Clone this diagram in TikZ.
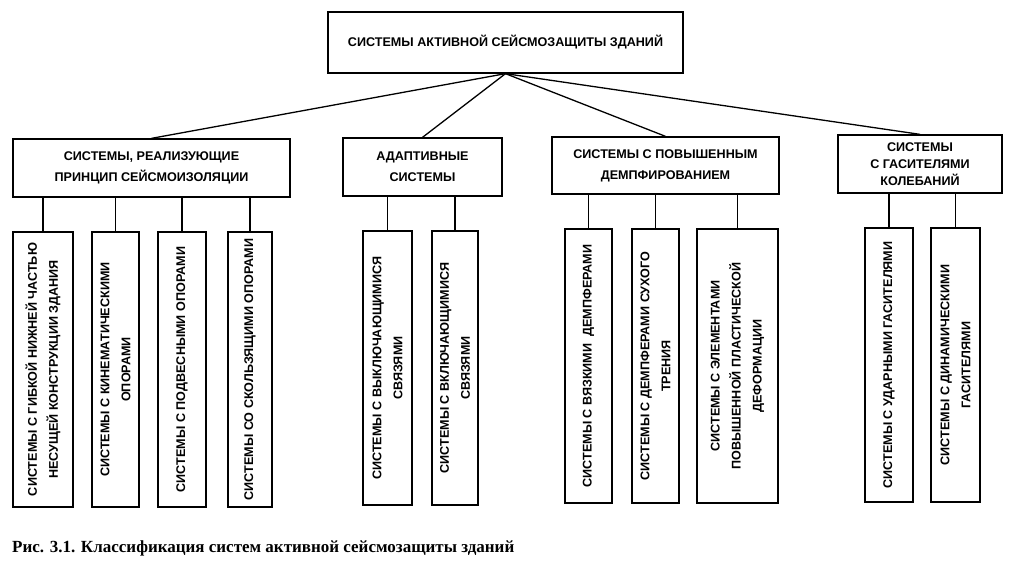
\documentclass[tikz,border=0pt]{standalone}
\usepackage{fontspec}
\setmainfont{Liberation Serif}
\setsansfont{Liberation Sans}
\usetikzlibrary{positioning}

\begin{document}
\begin{tikzpicture}[
x=1pt,y=-1pt,
box/.style={rectangle,draw,line width=1.3pt,align=center,inner sep=2pt,font=\sffamily\bfseries\fontsize{12.6}{21}\selectfont},
leaf/.style={box,rotate=90,minimum width=275pt},
wire/.style={line width=1.3pt}
]
\useasboundingbox (0,0) rectangle (1011,562);
% root
\node[box,minimum width=355pt,minimum height=61pt] (root) at (505.5,42.5) {СИСТЕМЫ АКТИВНОЙ СЕЙСМОЗАЩИТЫ ЗДАНИЙ};
% groups
\node[box,minimum width=277pt,minimum height=58pt] (iso) at (151.5,168) {СИСТЕМЫ, РЕАЛИЗУЮЩИЕ\\ПРИНЦИП СЕЙСМОИЗОЛЯЦИИ};
\node[box,minimum width=159pt,minimum height=58pt] (adapt) at (422.5,167) {АДАПТИВНЫЕ\\СИСТЕМЫ};
\node[box,minimum width=227pt,minimum height=57pt] (damp) at (665.5,165.5) {СИСТЕМЫ С ПОВЫШЕННЫМ\\ДЕМПФИРОВАНИЕМ};
\node[box,minimum width=164pt,minimum height=58pt,font=\sffamily\bfseries\fontsize{12.6}{17}\selectfont] (absorb) at (920,164) {СИСТЕМЫ\\С ГАСИТЕЛЯМИ\\КОЛЕБАНИЙ};
% leaves
\node[leaf,minimum height=60pt] (flex) at (43,369.5) {СИСТЕМЫ С ГИБКОЙ НИЖНЕЙ ЧАСТЬЮ\\НЕСУЩЕЙ КОНСТРУКЦИИ ЗДАНИЯ};
\node[leaf,minimum height=47pt] (kin) at (115.5,369.5) {СИСТЕМЫ С КИНЕМАТИЧЕСКИМИ\\ОПОРАМИ};
\node[leaf,minimum height=48pt] (hang) at (182,369.5) {СИСТЕМЫ С ПОДВЕСНЫМИ ОПОРАМИ};
\node[leaf,minimum height=44pt] (slide) at (250,369.5) {СИСТЕМЫ СО СКОЛЬЗЯЩИМИ ОПОРАМИ};
\node[leaf,minimum height=49pt,minimum width=274pt] (off) at (387.5,368) {СИСТЕМЫ С ВЫКЛЮЧАЮЩИМИСЯ\\СВЯЗЯМИ};
\node[leaf,minimum height=46pt,minimum width=274pt] (on) at (455,368) {СИСТЕМЫ С ВКЛЮЧАЮЩИМИСЯ\\СВЯЗЯМИ};
\node[leaf,minimum height=47pt,minimum width=274pt] (visc) at (588.5,366) {СИСТЕМЫ С ВЯЗКИМИ\ \ ДЕМПФЕРАМИ};
\node[leaf,minimum height=47pt,minimum width=274pt] (dry) at (655.5,366) {СИСТЕМЫ С ДЕМПФЕРАМИ СУХОГО\\ТРЕНИЯ};
\node[leaf,minimum height=81pt,minimum width=274pt] (plast) at (737.5,366) {СИСТЕМЫ С ЭЛЕМЕНТАМИ\\ПОВЫШЕННОЙ ПЛАСТИЧЕСКОЙ\\ДЕФОРМАЦИИ};
\node[leaf,minimum height=48pt,minimum width=274pt] (impact) at (889,365) {СИСТЕМЫ С УДАРНЫМИ ГАСИТЕЛЯМИ};
\node[leaf,minimum height=49pt,minimum width=274pt] (dyn) at (955.5,365) {СИСТЕМЫ С ДИНАМИЧЕСКИМИ\\ГАСИТЕЛЯМИ};
% caption
\node[anchor=west,font=\bfseries\fontsize{17}{20}\selectfont,inner sep=0pt] (caption) at (12,548) {Рис. 3.1. Классификация систем активной сейсмозащиты зданий};

\foreach \g in {iso,adapt,damp,absorb}
  \draw[wire] (root.south) -- (\g.north);
\foreach \c/\g in {flex/iso,kin/iso,hang/iso,slide/iso,off/adapt,on/adapt,visc/damp,dry/damp,plast/damp,impact/absorb,dyn/absorb}
  \draw[wire] (\c.east) -- (\c.east |- \g.south);
\end{tikzpicture}
\end{document}
